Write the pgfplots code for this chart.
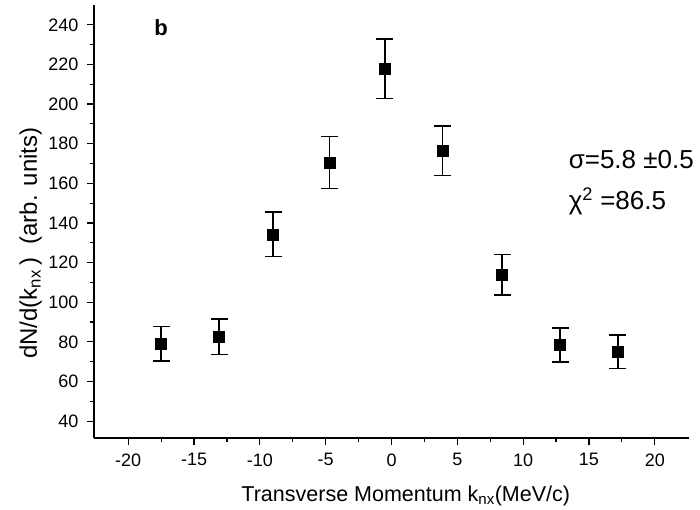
\documentclass[border=0pt]{standalone}
\usepackage{fontspec}
\setmainfont{Liberation Sans}
\usepackage{pgfplots}
\pgfplotsset{compat=1.18}

\begin{document}
\begin{tikzpicture}
\begin{axis}[
  scale only axis, width=595pt, height=433pt,
  xmin=-22.6, xmax=22.6, ymin=31.5, ymax=250,
  axis x line*=bottom, axis y line*=left,
  xtick={-20,-15,...,20}, minor x tick num=1,
  ytick={40,60,...,240}, minor y tick num=1,
  tick align=outside, major tick length=7pt, minor tick length=4pt,
  every tick/.style={black, line width=1.2pt},
  axis line style={line width=1.8pt},
  /pgf/number format/assume math mode=true,
  tick label style={font=\fontsize{18}{20}\selectfont},
  xticklabel style={yshift=-5pt},
  yticklabel style={xshift=-5pt},
  xlabel={Transverse Momentum k\textsubscript{nx}(MeV/c)},
  ylabel={dN/d(k\textsubscript{nx}\,)\ \ (arb. units)},
  xlabel style={font=\fontsize{21.5}{24}\selectfont, at={(axis description cs:0.524,0)}, anchor=base, yshift=-63pt},
  ylabel style={font=\fontsize{24}{26}\selectfont, at={(axis description cs:-0.096,0.45)}, anchor=base},
  clip=false]
\addplot[only marks, mark=square*, mark size=5.5pt, black,
  error bars/.cd, y dir=both, y explicit,
  error bar style={line width=1.3pt, black},
  error mark options={line width=1.3pt, mark size=8.5pt, rotate=90, black}]
  coordinates {
  (-17.5,79.0) +- (0,8.6)
  (-13.1,82.6) +- (0,9.0)
  (-9.0,134.3) +- (0,11.3)
  (-4.7,170.5) +- (0,13.0)
  (-0.5,217.8) +- (0,15.0)
  (3.9,176.4) +- (0,12.6)
  (8.4,113.9) +- (0,10.3)
  (12.8,78.4) +- (0,8.6)
  (17.2,75.0) +- (0,8.4)
  };
\node[font=\bfseries\fontsize{22}{24}\selectfont] at (axis cs:-17.5,238.5) {b};
\node[anchor=west, font=\fontsize{26}{28}\selectfont] at (axis cs:13.2,172) {σ=5.8 ±0.5};
\node[anchor=west, font=\fontsize{26}{28}\selectfont] at (axis cs:13.2,151) {χ\textsuperscript{2} =86.5};
\end{axis}
\pgfresetboundingbox
\path (-94pt,-72pt) rectangle (606pt,438pt);
\end{tikzpicture}
\end{document}
